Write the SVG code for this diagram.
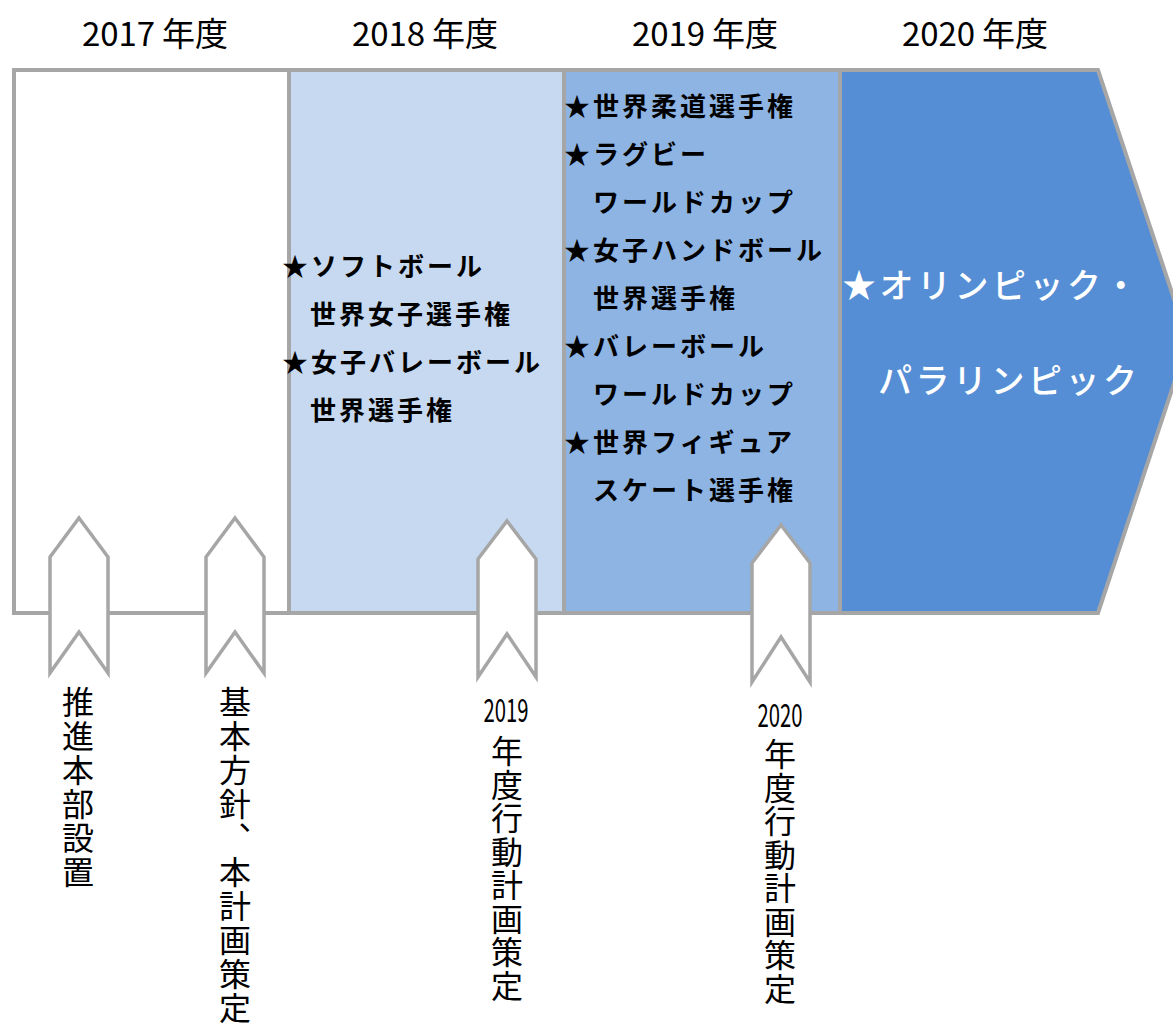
<svg xmlns="http://www.w3.org/2000/svg" width="1173" height="1029" viewBox="0 0 1173 1029">
<style>
.frame{stroke:#a6a6a6;stroke-width:4;stroke-linejoin:miter}
.mk{fill:#ffffff;stroke:#a6a6a6;stroke-width:3.5;stroke-linejoin:miter}
.hdr{font-family:"Noto Sans CJK JP","Noto Sans",sans-serif;font-size:33px;fill:#000;text-anchor:middle}
.ev{font-family:"Noto Sans CJK JP",sans-serif;font-size:26px;font-weight:bold;fill:#000;letter-spacing:3px}
.ol{font-family:"Noto Sans CJK JP",sans-serif;font-size:34px;font-weight:500;fill:#ffffff;letter-spacing:3.5px}
.vt{font-family:"Noto Sans CJK JP",sans-serif;font-size:32px;fill:#000;writing-mode:vertical-rl;letter-spacing:2px}
.vt2{font-family:"Noto Sans CJK JP",sans-serif;font-size:32px;fill:#000;writing-mode:vertical-rl;letter-spacing:1.5px}
.yr{font-family:"Noto Sans CJK JP",sans-serif;font-size:32px;fill:#000;text-anchor:middle}
</style>
<rect width="1173" height="1029" fill="#ffffff"/>
<g id="headers">
<text class="hdr" x="155" y="46" textLength="146" lengthAdjust="spacing">2017 年度</text>
<text class="hdr" x="425" y="46" textLength="146" lengthAdjust="spacing">2018 年度</text>
<text class="hdr" x="705" y="46" textLength="146" lengthAdjust="spacing">2019 年度</text>
<text class="hdr" x="975" y="46" textLength="146" lengthAdjust="spacing">2020 年度</text>
</g>
<g id="col-2017">
<rect class="frame" x="14" y="70" width="275" height="543" fill="#ffffff"/>
</g>
<g id="col-2018">
<rect class="frame" x="289" y="70" width="275" height="543" fill="#C6D9F1"/>
<text class="ev" x="282" y="276">★ソフトボール</text>
<text class="ev" x="310" y="324">世界女子選手権</text>
<text class="ev" x="282" y="372">★女子バレーボール</text>
<text class="ev" x="310" y="420">世界選手権</text>
</g>
<g id="col-2019">
<rect class="frame" x="564" y="70" width="276" height="543" fill="#8EB4E3"/>
<text class="ev" x="564" y="116">★世界柔道選手権</text>
<text class="ev" x="564" y="164">★ラグビー</text>
<text class="ev" x="593" y="212">ワールドカップ</text>
<text class="ev" x="564" y="260">★女子ハンドボール</text>
<text class="ev" x="593" y="308">世界選手権</text>
<text class="ev" x="564" y="356">★バレーボール</text>
<text class="ev" x="593" y="404">ワールドカップ</text>
<text class="ev" x="564" y="452">★世界フィギュア</text>
<text class="ev" x="593" y="500">スケート選手権</text>
</g>
<g id="col-2020">
<polygon class="frame" points="840,70 1098,70 1188,341 1098,613 840,613" fill="#558ED5"/>
<text class="ol" x="842" y="298">★オリンピック・</text>
<text class="ol" x="878" y="393">パラリンピック</text>
</g>
<g id="milestone-1">
<polygon class="mk" points="79,518 108,557 108,673 79,632 50,673 50,557"/>
<text class="vt" x="78" y="686">推進本部設置</text>
</g>
<g id="milestone-2">
<polygon class="mk" points="235,518 264,557 264,673 235,632 206,673 206,557"/>
<text class="vt" x="235" y="686">基本方針、本計画策定</text>
</g>
<g id="milestone-3">
<polygon class="mk" points="507,521 536,559 536,677 507,634 478,677 478,559"/>
<text class="yr" x="506" y="722" textLength="45" lengthAdjust="spacingAndGlyphs">2019</text>
<text class="vt2" x="507" y="735">年度行動計画策定</text>
</g>
<g id="milestone-4">
<polygon class="mk" points="781,525 810,563 810,682 781,637 752,682 752,563"/>
<text class="yr" x="780" y="727" textLength="45" lengthAdjust="spacingAndGlyphs">2020</text>
<text class="vt2" x="780" y="738">年度行動計画策定</text>
</g>
</svg>
